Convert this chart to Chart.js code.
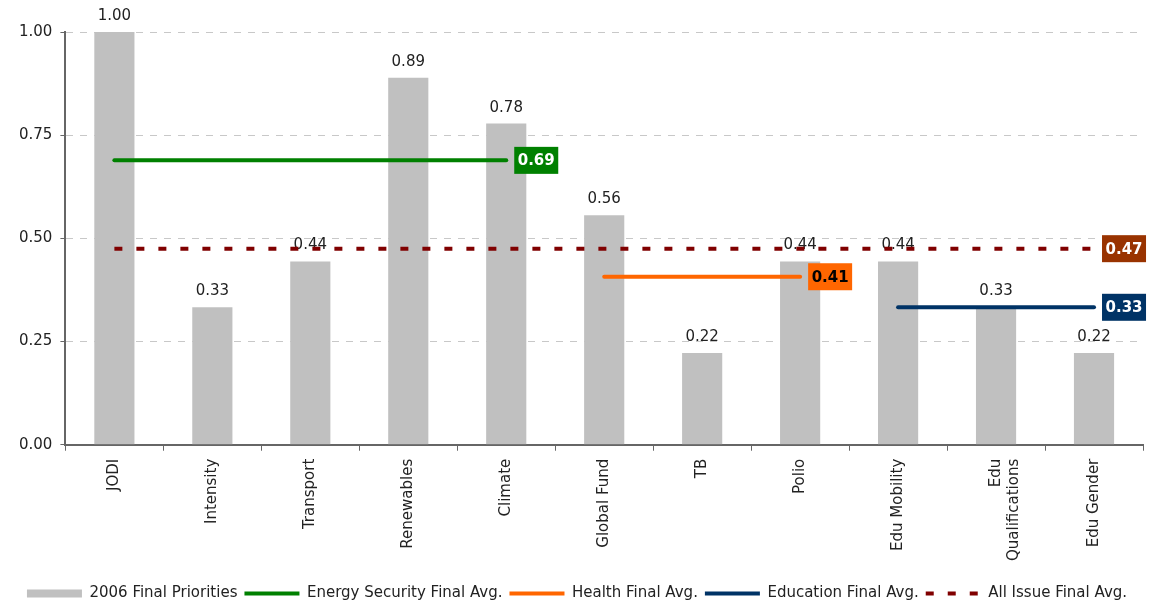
<!DOCTYPE html>
<html>
<head>
<meta charset="utf-8">
<script src="https://cdn.jsdelivr.net/npm/chart.js@4"></script>
<style>
  html, body { margin: 0; padding: 0; background: #fff; }
  #wrap { width: 1151px; height: 603px; }
</style>
</head>
<body>
<div id="wrap"><canvas id="priorityChart"></canvas></div>
<script>
const categories = ['JODI', 'Intensity', 'Transport', 'Renewables', 'Climate', 'Global Fund', 'TB', 'Polio', 'Edu Mobility', ['Edu', 'Qualifications'], 'Edu Gender'];
const priorities = [1.0, 0.333, 0.444, 0.889, 0.778, 0.556, 0.222, 0.444, 0.444, 0.333, 0.222];
const energyAvg = [0.689, 0.689, 0.689, 0.689, 0.689, null, null, null, null, null, null];
const healthAvg = [null, null, null, null, null, 0.407, 0.407, 0.407, null, null, null];
const eduAvg = [null, null, null, null, null, null, null, null, 0.333, 0.333, 0.333];
const allAvg = [0.475, 0.475, 0.475, 0.475, 0.475, 0.475, 0.475, 0.475, 0.475, 0.475, 0.475];
const yTicks = [0, 0.25, 0.5, 0.75, 1.0];

const FONT = 'DejaVu Sans, Verdana, sans-serif';

// value labels above the bars (drawn before the average lines)
const barLabels = {
    id: 'barLabels',
    afterDatasetDraw(chart, args) {
        if (args.index !== 0) return;
        const ctx = chart.ctx;
        ctx.save();
        ctx.font = '15px ' + FONT;
        ctx.fillStyle = '#222';
        ctx.textAlign = 'center';
        ctx.textBaseline = 'middle';
        args.meta.data.forEach((bar, i) => {
            ctx.fillText(priorities[i].toFixed(2), bar.x, bar.y - 16);
        });
        ctx.restore();
    }
};

// coloured value boxes at the right end of each average line
const avgBoxes = {
    id: 'avgBoxes',
    afterDatasetsDraw(chart) {
        const ctx = chart.ctx;
        chart.data.datasets.forEach((ds, i) => {
            if (!ds.boxColor) return;
            const meta = chart.getDatasetMeta(i);
            let last = -1;
            ds.data.forEach((v, j) => { if (v !== null) last = j; });
            const pt = meta.data[last];
            const label = ds.data[last].toFixed(2);
            ctx.save();
            ctx.font = 'bold 15px ' + FONT;
            const w = ctx.measureText(label).width + 7;
            const h = 27;
            const x = pt.x + 8;
            ctx.fillStyle = ds.boxColor;
            ctx.fillRect(x, pt.y - h / 2, w, h);
            ctx.fillStyle = ds.boxText;
            ctx.textAlign = 'center';
            ctx.textBaseline = 'middle';
            ctx.fillText(label, x + w / 2, pt.y + 1);
            ctx.restore();
        });
    }
};

const lineStyle = {
    type: 'line',
    order: 0,
    borderWidth: 4,
    pointRadius: 0,
    pointHoverRadius: 0,
    borderCapStyle: 'round',
    pointStyle: 'line',
    fill: false,
    spanGaps: false
};

const ctx = document.getElementById('priorityChart').getContext('2d');
const chart = new Chart(ctx, {
    type: 'bar',
    data: {
        labels: categories,
        datasets: [{
            label: '2006 Final Priorities',
            data: priorities,
            order: 1,
            backgroundColor: '#C0C0C0',
            borderWidth: 0,
            barPercentage: 0.41,
            categoryPercentage: 1.0,
            pointStyle: 'rect'
        }, {
            ...lineStyle,
            label: 'Energy Security Final Avg.',
            data: energyAvg,
            borderColor: '#008000',
            backgroundColor: '#008000',
            boxColor: '#008000',
            boxText: '#fff'
        }, {
            ...lineStyle,
            label: 'Health Final Avg.',
            data: healthAvg,
            borderColor: '#FF6600',
            backgroundColor: '#FF6600',
            boxColor: '#FF6600',
            boxText: '#000'
        }, {
            ...lineStyle,
            label: 'Education Final Avg.',
            data: eduAvg,
            borderColor: '#003366',
            backgroundColor: '#003366',
            boxColor: '#003366',
            boxText: '#fff'
        }, {
            ...lineStyle,
            label: 'All Issue Final Avg.',
            data: allAvg,
            borderColor: '#800000',
            backgroundColor: '#800000',
            borderDash: [8, 14],
            borderCapStyle: 'butt',
            boxColor: '#993300',
            boxText: '#fff'
        }]
    },
    options: {
        responsive: true,
        maintainAspectRatio: false,
        animation: false,
        layout: { padding: { top: 32, right: 8, left: 11, bottom: -8 } },
        plugins: {
            tooltip: { enabled: false },
            legend: {
                position: 'bottom',
                labels: {
                    usePointStyle: true,
                    pointStyleWidth: 55,
                    boxHeight: 8,
                    padding: 7,
                    color: '#222',
                    font: { family: FONT, size: 15 },
                    sort: (a, b) => a.datasetIndex - b.datasetIndex,
                    generateLabels: (chart) => {
                        const items = Chart.defaults.plugins.legend.labels.generateLabels(chart);
                        items.forEach(item => {
                            const ds = chart.data.datasets[item.datasetIndex];
                            if (ds.type === 'line') {
                                item.lineDash = ds.borderDash || [];
                                item.lineWidth = 4;
                                item.lineCap = 'butt';
                            }
                        });
                        return items;
                    }
                }
            }
        },
        scales: {
            x: {
                afterFit: (axis) => { axis.height += 10; },
                grid: { drawOnChartArea: false, drawTicks: true, tickLength: 6, tickColor: '#666', offset: true },
                border: { color: '#666', width: 2 },
                ticks: { minRotation: 90, maxRotation: 90, padding: 8, color: '#222', font: { family: FONT, size: 15 } }
            },
            y: {
                min: 0,
                max: 1,
                afterBuildTicks: (axis) => { axis.ticks = yTicks.map(v => ({ value: v })); },
                grid: { color: '#C8C8C8', lineWidth: 1, tickLength: 5, tickColor: '#666' },
                border: { color: '#666', width: 2, dash: [7, 7] },
                ticks: { padding: 8, color: '#222', font: { family: FONT, size: 15 }, callback: (v) => Number(v).toFixed(2) }
            }
        }
    },
    plugins: [barLabels, avgBoxes]
});
</script>
</body>
</html>
